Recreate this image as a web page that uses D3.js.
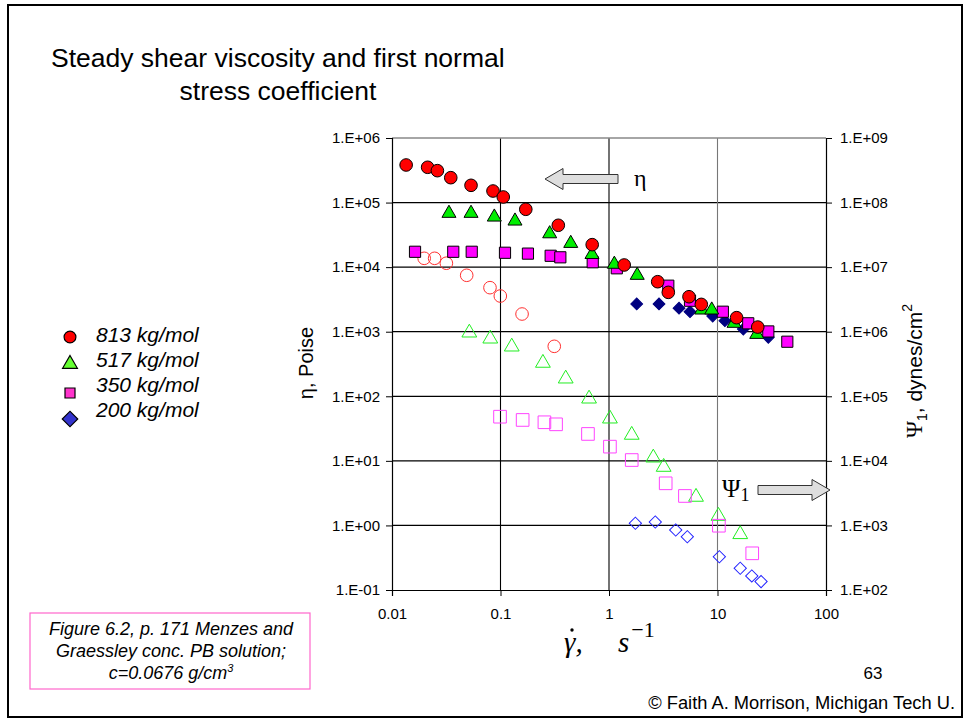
<!DOCTYPE html>
<html>
<head>
<meta charset="utf-8">
<script src="https://cdn.jsdelivr.net/npm/d3@7"></script>
<style>
body { margin:0; background:#fff; }
svg text { font-family: Arial, "Liberation Sans", sans-serif; }
</style>
</head>
<body>
<div class="chart"></div>
<script>
// ----------------------- DATA
var xTicks = [0.01, 0.1, 1, 10, 100];
var xTickLabels = ["0.01", "0.1", "1", "10", "100"];
var etaTicks = [1e-1, 1e0, 1e1, 1e2, 1e3, 1e4, 1e5, 1e6];
var psiTicks = [1e2, 1e3, 1e4, 1e5, 1e6, 1e7, 1e8, 1e9];
var legendLabels = ["813 kg/mol", "517 kg/mol", "350 kg/mol", "200 kg/mol"];

// viscosity eta, Poise (filled symbols, left axis)
var eta813Rate = [0.0135, 0.0213, 0.0262, 0.0348, 0.0535, 0.0853, 0.106, 0.171, 0.341, 0.70, 1.38, 2.81, 3.52, 5.46, 7.09, 15.0, 23.5];
var eta813 = [3.82e5, 3.52e5, 3.12e5, 2.43e5, 1.85e5, 1.51e5, 1.22e5, 7.87e4, 4.45e4, 2.23e4, 1.08e4, 5.95e3, 4.07e3, 3.48e3, 2.65e3, 1.65e3, 1.18e3];
var eta517Rate = [0.0335, 0.0535, 0.0877, 0.136, 0.284, 0.444, 0.697, 1.12, 1.82, 7.15, 8.85, 14.2, 23.0];
var eta517 = [7.07e4, 7.07e4, 6.19e4, 5.37e4, 3.41e4, 2.42e4, 1.63e4, 1.15e4, 7.75e3, 2.25e3, 2.25e3, 1.40e3, 944];
var eta350Rate = [0.0163, 0.0367, 0.0543, 0.110, 0.179, 0.290, 0.356, 0.708, 1.18, 3.52, 5.58, 11.2, 19.2, 29.4, 44.0];
var eta350 = [1.73e4, 1.73e4, 1.73e4, 1.67e4, 1.62e4, 1.50e4, 1.42e4, 1.19e4, 9.6e3, 5.16e3, 3.02e3, 2.04e3, 1.35e3, 1.01e3, 700];
var eta200Rate = [1.80, 2.89, 4.42, 5.58, 9.03, 11.7, 17.3, 29.4];
var eta200 = [2.69e3, 2.69e3, 2.31e3, 2.04e3, 1.75e3, 1.48e3, 1.10e3, 819];

// first normal stress coefficient Psi1, dynes/cm2 (open symbols, right axis)
var psi813Rate = [0.0198, 0.0247, 0.0317, 0.0488, 0.080, 0.0996, 0.158, 0.313];
var psi813 = [1.37e7, 1.37e7, 1.15e7, 7.48e6, 4.81e6, 3.57e6, 1.88e6, 5.94e5];
var psi517Rate = [0.0516, 0.0805, 0.127, 0.246, 0.399, 0.655, 1.02, 1.62, 2.56, 3.19, 6.34, 10.2, 16.2];
var psi517 = [1.0e6, 8.07e5, 6.07e5, 3.40e5, 1.94e5, 9.5e4, 4.66e4, 2.61e4, 1.16e4, 8.32e3, 2.86e3, 1.45e3, 755];
var psi350Rate = [0.099, 0.160, 0.254, 0.325, 0.640, 1.02, 1.62, 3.33, 5.01, 10.3, 20.9];
var psi350 = [4.83e4, 4.30e4, 3.96e4, 3.68e4, 2.61e4, 1.66e4, 1.03e4, 4.49e3, 2.86e3, 990, 370];
var psi200Rate = [1.75, 2.67, 4.12, 5.27, 10.4, 16.2, 20.7, 25.2];
var psi200 = [1.08e3, 1.13e3, 849, 668, 327, 217, 165, 135];

// ----------------------- LAYOUT
var width = 968, height = 723;
var plot = {left:392, right:826, top:138, bottom:590};
var serif = "'Liberation Serif', 'Times New Roman', serif";

var svg = d3.select(".chart").append("svg")
  .attr("width", width)
  .attr("height", height);

// slide frame
svg.append("rect")
  .attr("x", 8).attr("y", 5).attr("width", 954).attr("height", 712)
  .attr("fill", "none").attr("stroke", "#000").attr("stroke-width", 2);

// title
svg.append("text").attr("x", 51).attr("y", 67)
  .attr("font-size", 26.5).text("Steady shear viscosity and first normal");
svg.append("text").attr("x", 278).attr("y", 100).attr("text-anchor", "middle")
  .attr("font-size", 26.5).text("stress coefficient");

// ----------------------- SCALES
var x = d3.scaleLog().domain([0.01, 100]).range([plot.left, plot.right]);
var yEta = d3.scaleLog().domain([1e-1, 1e6]).range([plot.bottom, plot.top]);
var yPsi = d3.scaleLog().domain([1e2, 1e9]).range([plot.bottom, plot.top]);

var expFormat = function(d){
  var e = Math.round(Math.log10(d));
  return "1.E" + (e < 0 ? "-" : "+") + d3.format("02d")(Math.abs(e));
};

// gridlines
var g = svg.append("g");
g.selectAll("line.hgrid").data(etaTicks.slice(1, -1)).enter().append("line")
  .attr("x1", plot.left).attr("x2", plot.right)
  .attr("y1", function(d){ return yEta(d); }).attr("y2", function(d){ return yEta(d); })
  .attr("stroke", "#000").attr("stroke-width", 1.2);
g.selectAll("line.vgrid").data(xTicks.slice(1, -1)).enter().append("line")
  .attr("x1", function(d){ return x(d); }).attr("x2", function(d){ return x(d); })
  .attr("y1", plot.top).attr("y2", plot.bottom)
  .attr("stroke", function(d, i){ return i == 2 ? "#777" : "#000"; }).attr("stroke-width", 1.1);
// top border
g.append("line").attr("x1", plot.left).attr("x2", plot.right)
  .attr("y1", plot.top).attr("y2", plot.top).attr("stroke", "#888").attr("stroke-width", 1.5);

// ----------------------- AXES
var axisStyle = function(sel){
  sel.selectAll("text").attr("font-size", 15).attr("fill", "#000")
    .style("font-family", "Arial, 'Liberation Sans', sans-serif");
  sel.selectAll("line").attr("stroke", "#000");
  sel.select(".domain").attr("stroke", "#000").attr("stroke-width", 1.2);
};

svg.append("g").attr("transform", "translate(" + plot.left + ",0)")
  .call(d3.axisLeft(yEta).tickValues(etaTicks).tickFormat(expFormat).tickSizeOuter(0).tickSize(6).tickPadding(6))
  .call(axisStyle);

svg.append("g").attr("transform", "translate(" + plot.right + ",0)")
  .call(d3.axisRight(yPsi).tickValues(psiTicks).tickFormat(expFormat).tickSizeOuter(0).tickSize(6).tickPadding(8))
  .call(axisStyle);

svg.append("g").attr("transform", "translate(0," + plot.bottom + ")")
  .call(d3.axisBottom(x).tickValues(xTicks).tickFormat(function(d, i){ return xTickLabels[i]; }).tickSizeOuter(0).tickSize(6).tickPadding(12))
  .call(axisStyle);

// axis titles
svg.append("text").attr("transform", "translate(313,363) rotate(-90)")
  .attr("text-anchor", "middle").attr("font-size", 20).text("η, Poise");

var psiLabel = svg.append("text").attr("transform", "translate(922,371) rotate(-90)")
  .attr("text-anchor", "middle").attr("font-size", 21);
psiLabel.append("tspan").style("font-family", serif).attr("font-size", 23).text("Ψ");
psiLabel.append("tspan").attr("font-size", 14).attr("dy", 5).text("1");
psiLabel.append("tspan").attr("dy", -5).text(", dynes/cm");
psiLabel.append("tspan").attr("font-size", 14).attr("dy", -10).text("2");

// x axis title: gamma-dot, s^-1 (the overdot is a small mark above the gamma)
svg.append("text").attr("x", 564).attr("y", 652)
  .style("font-family", serif).attr("font-size", 29).attr("font-style", "italic").text("γ,");
svg.append("circle").attr("cx", 572).attr("cy", 630).attr("r", 1.7).attr("fill", "#000");
var sLabel = svg.append("text").attr("x", 618).attr("y", 652)
  .style("font-family", serif).attr("font-size", 29);
sLabel.append("tspan").attr("font-style", "italic").text("s");
sLabel.append("tspan").attr("font-size", 22).attr("dx", 2).attr("dy", -15).text("−1");

// ----------------------- ARROWS
function blockArrow(x0, x1, yc, dir){
  var h = 4.5, hh = 10.5, head = 18;
  var tipX = dir < 0 ? x0 : x1;
  var tailX = dir < 0 ? x1 : x0;
  var baseX = tipX - dir * head;
  var pts = [[tipX, yc], [baseX, yc - hh], [baseX, yc - h], [tailX, yc - h], [tailX, yc + h], [baseX, yc + h], [baseX, yc + hh]];
  svg.append("path").attr("d", d3.line()(pts) + "Z")
    .attr("fill", "#dedede").attr("stroke", "#333").attr("stroke-width", 1);
}
blockArrow(545, 618, 179, -1);
svg.append("text").attr("x", 634).attr("y", 186).attr("font-size", 24)
  .style("font-family", serif).text("η");

blockArrow(758, 830, 490, 1);
var psiArrowText = svg.append("text").attr("x", 722).attr("y", 497).attr("font-size", 25)
  .style("font-family", serif);
psiArrowText.append("tspan").text("Ψ");
psiArrowText.append("tspan").attr("font-size", 18).attr("dy", 4).text("1");

// ----------------------- MARKERS
var symbolSize = {circle:125, triangle:85, square:125, diamond:70};
var openSize = {circle:125, triangle:95, square:160, diamond:75};
var shapes = {circle:d3.symbolCircle, triangle:d3.symbolTriangle, square:d3.symbolSquare, diamond:d3.symbolSquare};

function drawSeries(rates, vals, yScale, shape, fill, stroke, open){
  var pts = rates.map(function(r, i){ return {x:r, y:vals[i]}; });
  var size = open ? openSize[shape] : symbolSize[shape];
  svg.append("g").selectAll("path").data(pts).enter().append("path")
    .attr("d", d3.symbol().type(shapes[shape]).size(size))
    .attr("transform", function(d){
      var dy = shape == "triangle" ? 1 : 0;
      var rot = shape == "diamond" ? " rotate(45)" : "";
      return "translate(" + x(d.x) + "," + (yScale(d.y) + dy) + ")" + rot;
    })
    .attr("fill", open ? "none" : fill)
    .attr("stroke", stroke)
    .attr("stroke-width", 1);
}

// open symbols (Psi1)
drawSeries(psi813Rate, psi813, yPsi, "circle", null, "#ff3030", true);
drawSeries(psi517Rate, psi517, yPsi, "triangle", null, "#22ee22", true);
drawSeries(psi350Rate, psi350, yPsi, "square", null, "#ff44ff", true);
drawSeries(psi200Rate, psi200, yPsi, "diamond", null, "#2222ff", true);

// filled symbols (eta)
drawSeries(eta200Rate, eta200, yEta, "diamond", "#000080", "#000080", false);
drawSeries(eta350Rate, eta350, yEta, "square", "#ff00ff", "#000", false);
drawSeries(eta517Rate, eta517, yEta, "triangle", "#00ee00", "#000", false);
drawSeries(eta813Rate, eta813, yEta, "circle", "#ff0000", "#000", false);

// ----------------------- LEGEND
var legendShapes = ["circle", "triangle", "square", "diamond"];
var legendFill = ["#ff0000", "#66ff33", "#ff33cc", "#3333cc"];
var legendY = [342, 367, 392, 417];
var legendMarkY = [337, 364, 393, 419];
var legendMarkSize = [110, 95, 100, 120];
var legend = svg.append("g");
legendShapes.forEach(function(s, i){
  legend.append("path")
    .attr("d", d3.symbol().type(shapes[s]).size(legendMarkSize[i]))
    .attr("transform", "translate(70," + legendMarkY[i] + ")" + (s == "diamond" ? " rotate(45)" : ""))
    .attr("fill", legendFill[i]).attr("stroke", "#000").attr("stroke-width", 1.2);
  legend.append("text").attr("x", 96).attr("y", legendY[i])
    .attr("font-size", 21).attr("font-style", "italic").text(legendLabels[i]);
});

// ----------------------- SOURCE BOX
svg.append("rect").attr("x", 30).attr("y", 613).attr("width", 280).attr("height", 76)
  .attr("fill", "none").attr("stroke", "#ff66cc").attr("stroke-width", 1.2);
var note = svg.append("g").attr("font-size", 18).attr("font-style", "italic");
note.append("text").attr("x", 171).attr("y", 635).attr("text-anchor", "middle").text("Figure 6.2, p. 171 Menzes and");
note.append("text").attr("x", 171).attr("y", 657).attr("text-anchor", "middle").text("Graessley conc. PB solution;");
var n3 = note.append("text").attr("x", 171).attr("y", 679).attr("text-anchor", "middle");
n3.append("tspan").text("c=0.0676 g/cm");
n3.append("tspan").attr("font-size", 11).attr("dy", -7).text("3");

// page number and credit
svg.append("text").attr("x", 873).attr("y", 679).attr("text-anchor", "middle").attr("font-size", 17).text("63");
svg.append("text").attr("x", 955).attr("y", 709).attr("text-anchor", "end").attr("font-size", 18.3)
  .text("© Faith A. Morrison, Michigan Tech U.");
</script>
</body>
</html>
